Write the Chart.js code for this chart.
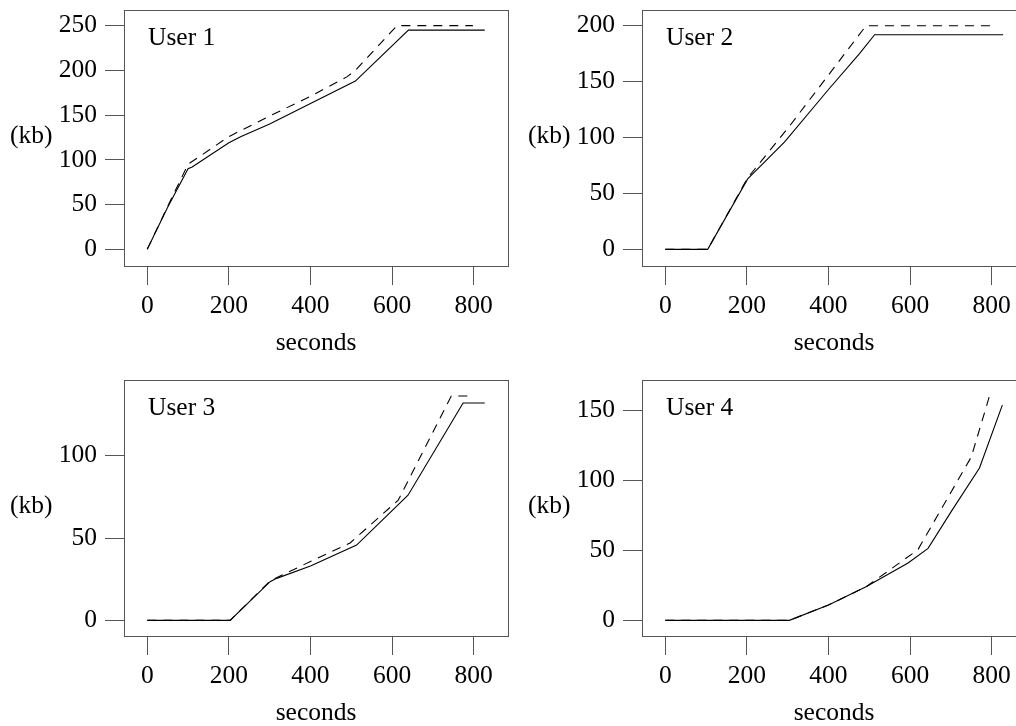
<!DOCTYPE html>
<html>
<head>
<meta charset="utf-8">
<title>User kb over time</title>
<script src="https://cdn.jsdelivr.net/npm/chart.js@4.4.1/dist/chart.umd.min.js"></script>
<style>
    html, body {
        margin: 0;
        padding: 0;
        background: #fff;
    }
    #page {
        position: relative;
        width: 1016px;
        height: 726px;
        overflow: hidden;
        background: #fff;
    }
    .painel {
        position: absolute;
        width: 518px;
        height: 370px;
    }
    .painel canvas {
        position: absolute;
        left: 0;
        top: 0;
    }
    .rotulo {
        position: absolute;
        font-family: 'Liberation Serif', 'Times New Roman', serif;
        font-size: 25.5px;
        line-height: 28px;
        color: #000;
        white-space: nowrap;
    }
</style>
</head>
<body>
<div id="page">
    <div class="painel" style="left:0;top:0">
        <canvas id="grafico1" width="518" height="370"></canvas>
        <div class="rotulo" style="left:148px;top:23px">User 1</div>
        <div class="rotulo" style="left:10px;top:121px">(kb)</div>
    </div>
    <div class="painel" style="left:518px;top:0">
        <canvas id="grafico2" width="518" height="370"></canvas>
        <div class="rotulo" style="left:148px;top:23px">User 2</div>
        <div class="rotulo" style="left:10px;top:121px">(kb)</div>
    </div>
    <div class="painel" style="left:0;top:370px">
        <canvas id="grafico3" width="518" height="370"></canvas>
        <div class="rotulo" style="left:148px;top:23px">User 3</div>
        <div class="rotulo" style="left:10px;top:121px">(kb)</div>
    </div>
    <div class="painel" style="left:518px;top:370px">
        <canvas id="grafico4" width="518" height="370"></canvas>
        <div class="rotulo" style="left:148px;top:23px">User 4</div>
        <div class="rotulo" style="left:10px;top:121px">(kb)</div>
    </div>
</div>

<script>
// tick labels
const xTicks = [0, 200, 400, 600, 800];
const yTicks1 = [0, 50, 100, 150, 200, 250];
const yTicks2 = [0, 50, 100, 150, 200];
const yTicks3 = [0, 50, 100];
const yTicks4 = [0, 50, 100, 150];

// User 1 (seconds / kb), solid and dashed
const user1SolidX = [0, 50, 100, 110, 200, 230, 300, 400, 510, 640, 827];
const user1SolidY = [0, 47, 90, 92, 119, 126, 140, 163, 188, 245, 245];
const user1DashX = [0, 50, 100, 200, 300, 400, 490, 510, 612, 798];
const user1DashY = [0, 48, 95, 126, 149, 171, 193, 200, 250, 250];

// User 2
const user2SolidX = [0, 104, 202, 292, 400, 476, 513, 828];
const user2SolidY = [0, 0, 63, 96, 143, 175, 192, 192];
const user2DashX = [0, 104, 202, 304, 492, 799];
const user2DashY = [0, 0, 64, 110, 200, 200];

// User 3
const user3SolidX = [0, 100, 203, 301, 317, 400, 513, 639, 774, 827];
const user3SolidY = [0, 0, 0, 23.5, 25.5, 33, 45.7, 76, 132, 132];
const user3DashX = [0, 203, 301, 407, 497, 615, 745, 798];
const user3DashY = [0, 0, 24, 36.6, 47, 73, 136.3, 136.3];

// User 4
const user4SolidX = [0, 304, 400, 492, 595, 644, 701, 770, 826];
const user4SolidY = [0, 0, 11, 24, 41, 51.5, 78, 109, 154];
const user4DashX = [0, 304, 400, 492, 619, 750, 795];
const user4DashY = [0, 0, 11, 24, 50.5, 117, 161];

const fonteSerif = "'Liberation Serif', 'Times New Roman', serif";
const tamanhoFonte = 25.5;

// junta dois arrays em pontos {x, y}
function pontos(xs, ys) {
    return xs.map((x, i) => ({ x: x, y: ys[i] }));
}

// desenha a moldura em volta da area do grafico
const molduraPlugin = {
    id: 'moldura',
    afterDraw(chart) {
        const ctx = chart.ctx;
        const a = chart.chartArea;
        ctx.save();
        ctx.strokeStyle = '#555';
        ctx.lineWidth = 1;
        ctx.strokeRect(a.left + 0.5, a.top + 0.5, a.right - a.left, a.bottom - a.top);
        ctx.restore();
    }
};

function criarGrafico(id, solid, dashed, yMin, yMax, yTicks) {
    const ctx = document.getElementById(id).getContext('2d');
    return new Chart(ctx, {
        type: 'line',
        data: {
            datasets: [
                {
                    data: solid,
                    borderColor: '#000',
                    borderWidth: 1.1,
                    pointRadius: 0,
                    tension: 0,
                    fill: false
                },
                {
                    data: dashed,
                    borderColor: '#000',
                    borderWidth: 1.1,
                    borderDash: [9, 7],
                    pointRadius: 0,
                    tension: 0,
                    fill: false
                }
            ]
        },
        options: {
            responsive: false,
            animation: false,
            devicePixelRatio: 1,
            layout: {
                padding: { top: 10, right: 10, left: 0, bottom: 0 }
            },
            plugins: {
                legend: { display: false },
                tooltip: { enabled: false }
            },
            scales: {
                x: {
                    type: 'linear',
                    min: -57,
                    max: 884,
                    afterBuildTicks: (scale) => {
                        scale.ticks = xTicks.map(v => ({ value: v }));
                    },
                    afterFit: (scale) => {
                        scale.height = 104;
                        scale.paddingLeft = 0;
                        scale.paddingRight = 0;
                    },
                    border: { display: false },
                    grid: {
                        drawOnChartArea: false,
                        drawTicks: true,
                        tickLength: 19,
                        color: '#555'
                    },
                    ticks: {
                        autoSkip: false,
                        maxRotation: 0,
                        padding: 6,
                        color: '#000',
                        font: { family: fonteSerif, size: tamanhoFonte },
                        callback: v => String(v)
                    },
                    title: {
                        display: true,
                        text: 'seconds',
                        color: '#000',
                        font: { family: fonteSerif, size: tamanhoFonte },
                        padding: { top: 0, bottom: 11 }
                    }
                },
                y: {
                    min: yMin,
                    max: yMax,
                    afterBuildTicks: (scale) => {
                        scale.ticks = yTicks.map(v => ({ value: v }));
                    },
                    afterFit: (scale) => {
                        scale.width = 124;
                        scale.paddingTop = 0;
                        scale.paddingBottom = 0;
                    },
                    border: { display: false },
                    grid: {
                        drawOnChartArea: false,
                        drawTicks: true,
                        tickLength: 19,
                        color: '#555'
                    },
                    ticks: {
                        autoSkip: false,
                        padding: 8,
                        color: '#000',
                        font: { family: fonteSerif, size: tamanhoFonte },
                        callback: v => String(v)
                    }
                }
            }
        },
        plugins: [molduraPlugin]
    });
}

criarGrafico('grafico1', pontos(user1SolidX, user1SolidY), pontos(user1DashX, user1DashY), -18.7, 267.5, yTicks1);
criarGrafico('grafico2', pontos(user2SolidX, user2SolidY), pontos(user2DashX, user2DashY), -14.9, 214.1, yTicks2);
criarGrafico('grafico3', pontos(user3SolidX, user3SolidY), pontos(user3DashX, user3DashY), -9.5, 146.0, yTicks3);
criarGrafico('grafico4', pontos(user4SolidX, user4SolidY), pontos(user4DashX, user4DashY), -11.2, 172.0, yTicks4);
</script>
</body>
</html>
